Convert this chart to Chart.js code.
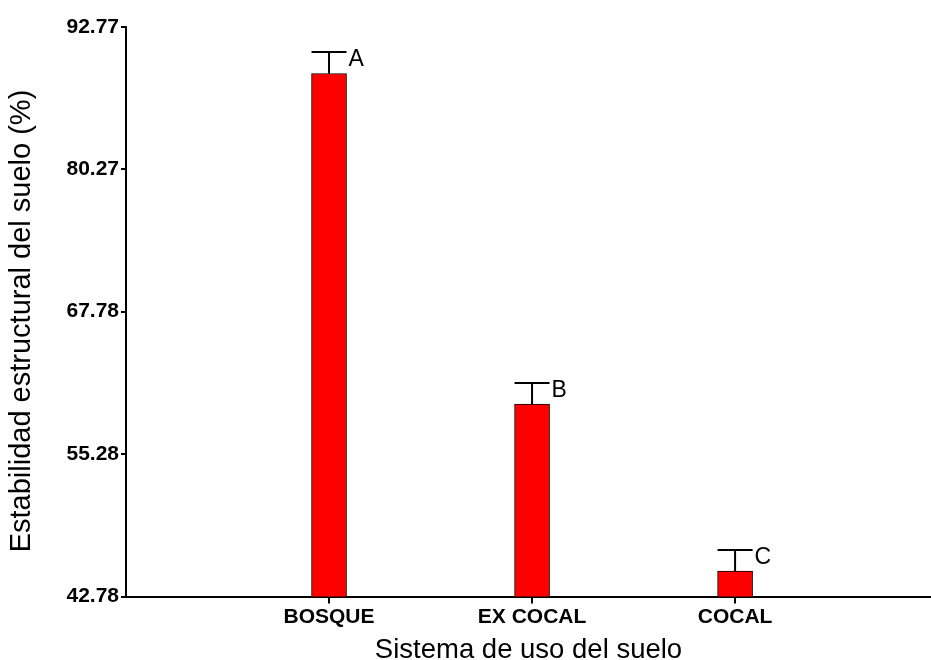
<!DOCTYPE html>
<html>
<head>
<meta charset="utf-8">
<script src="https://cdn.jsdelivr.net/npm/chart.js@4.4.1/dist/chart.umd.min.js"></script>
<style>
  html, body { margin: 0; padding: 0; background: #fff; overflow: hidden; }
  #wrap { width: 931px; height: 660px; position: relative; }
</style>
</head>
<body>
<div id="wrap"><canvas id="c" width="931" height="660"></canvas></div>
<script>
// Soil structural stability by land-use system
const categories = ['BOSQUE', 'EX COCAL', 'COCAL'];
const meanValues = [88.69, 59.67, 45.02];
const errorValues = [1.88, 1.84, 1.85];
const groupLetters = ['A', 'B', 'C'];
const yTicks = [42.78, 55.28, 67.78, 80.27, 92.77];
const yTitle = 'Estabilidad estructural del suelo (%)';
const xTitle = 'Sistema de uso del suelo';

const FONT = '"Liberation Sans", Arial, sans-serif';

// Upper error whiskers, significance letters and the vertical axis title
const errorBarPlugin = {
  id: 'errorBars',
  afterDatasetsDraw(chart) {
    const ctx = chart.ctx;
    const xs = chart.scales.x, ys = chart.scales.y;
    const meta = chart.getDatasetMeta(0);
    ctx.save();
    ctx.strokeStyle = '#000';
    ctx.lineWidth = 2;
    meta.data.forEach((bar, i) => {
      const cx = xs.getPixelForValue(i + 1);
      const yTop = ys.getPixelForValue(meanValues[i]);
      const yErr = ys.getPixelForValue(meanValues[i] + errorValues[i]);
      const half = bar.width / 2;
      ctx.beginPath();
      ctx.moveTo(cx, yTop);
      ctx.lineTo(cx, yErr);
      ctx.moveTo(cx - half, yErr);
      ctx.lineTo(cx + half, yErr);
      ctx.stroke();
      ctx.fillStyle = '#000';
      ctx.font = '23px ' + FONT;
      ctx.textAlign = 'left';
      ctx.textBaseline = 'middle';
      ctx.fillText(groupLetters[i], cx + half + 2, yErr + 8);
    });
    ctx.translate(22, 321);
    ctx.rotate(-Math.PI / 2);
    ctx.font = '29px ' + FONT;
    ctx.textAlign = 'center';
    ctx.textBaseline = 'middle';
    ctx.fillStyle = '#000';
    ctx.fillText(yTitle, 0, 0);
    ctx.restore();
  }
};

new Chart(document.getElementById('c'), {
  type: 'bar',
  data: {
    datasets: [{
      data: meanValues.map((v, i) => ({ x: i + 1, y: v })),
      backgroundColor: '#ff0000',
      borderColor: '#000',
      borderWidth: 1,
      borderSkipped: 'bottom',
      barThickness: 35
    }]
  },
  options: {
    responsive: false,
    animation: false,
    layout: { padding: { top: 27, right: 0, left: 0, bottom: 0 } },
    plugins: { legend: { display: false }, tooltip: { enabled: false } },
    scales: {
      x: {
        type: 'linear',
        offset: false,
        min: 0,
        max: 3.965,
        afterBuildTicks(s) { s.ticks = categories.map((c, i) => ({ value: i + 1 })); },
        afterFit(s) { s.height = 63.5; },
        ticks: {
          autoSkip: false,
          maxRotation: 0,
          padding: 1,
          color: '#000',
          font: { family: FONT, size: 21, weight: 'bold' },
          callback: (v) => categories[v - 1] || ''
        },
        grid: { offset: false, drawOnChartArea: false, drawTicks: true, tickLength: 7, color: '#000', lineWidth: 2 },
        border: { display: true, color: '#000', width: 2 },
        title: {
          display: true,
          text: xTitle,
          color: '#000',
          font: { family: FONT, size: 27.5 },
          padding: { top: 0, bottom: -7 }
        }
      },
      y: {
        min: 42.78,
        max: 92.77,
        afterBuildTicks(s) { s.ticks = yTicks.map(v => ({ value: v })); },
        afterFit(s) { s.width = 126; },
        ticks: {
          padding: 2,
          color: '#000',
          font: { family: FONT, size: 21, weight: 'bold' },
          callback: (v) => v.toFixed(2)
        },
        grid: { drawOnChartArea: false, drawTicks: true, tickLength: 5, color: '#000', lineWidth: 2 },
        border: { display: true, color: '#000', width: 2 }
      }
    }
  },
  plugins: [errorBarPlugin]
});
</script>
</body>
</html>
